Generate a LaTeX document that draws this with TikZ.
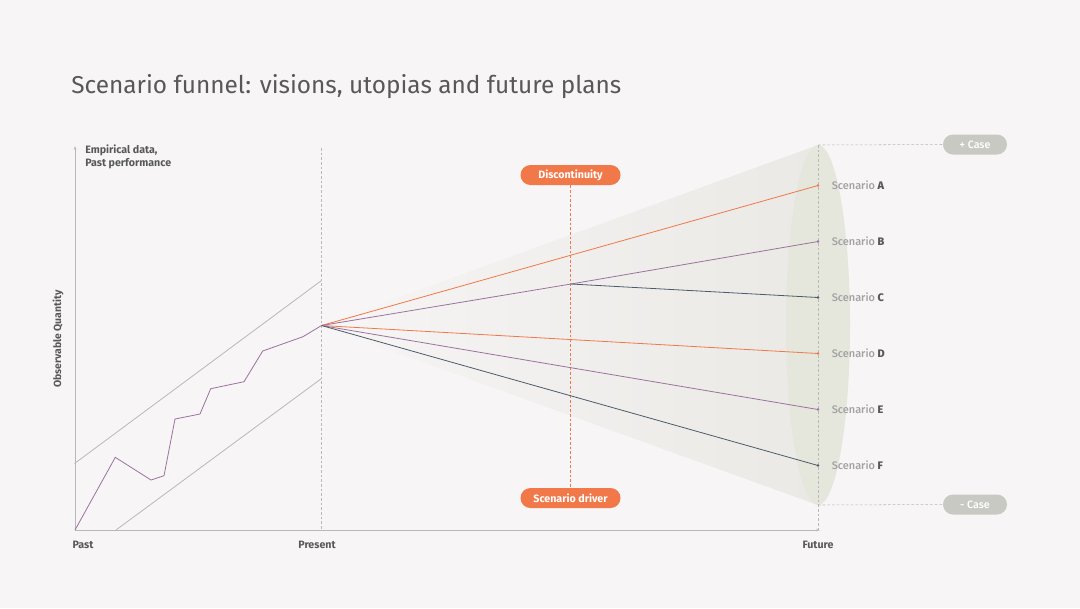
\documentclass[tikz,border=0pt]{standalone}
\usepackage{fontspec}
\setmainfont{Fira Sans}
\newfontfamily\medfont{Fira Sans Medium}
\usetikzlibrary{arrows.meta,shapes.geometric}
\definecolor{bg}{HTML}{F7F5F5}
\definecolor{txt}{HTML}{58585A}
\definecolor{lgray}{HTML}{A3A3A3}
\definecolor{axis}{HTML}{B8B8B8}
\definecolor{orng}{HTML}{F07849}
\definecolor{purp}{HTML}{9B729E}
\definecolor{slate}{HTML}{4C5B6B}
\definecolor{pillg}{HTML}{C9C9C3}
\definecolor{ellc}{HTML}{E5E6DC}
\definecolor{func}{HTML}{EAE9E5}
\tikzset{
  lbl/.style={font=\fontsize{8}{9.5}\selectfont\bfseries, text=txt, inner sep=0pt},
  pill/.style={rounded corners=7.5pt, fill=orng, text=white, font=\fontsize{8}{9.5}\selectfont\bfseries, minimum width=75pt, minimum height=15pt, inner sep=0pt},
  gpill/.style={rounded corners=7.5pt, fill=pillg, text=white, font=\fontsize{8}{9.5}\selectfont\medfont, minimum width=48pt, minimum height=15pt, inner sep=0pt},
  guide/.style={draw=axis, dashed, dash pattern=on 2pt off 1.5pt, line width=0.4pt},
  scen/.style={line width=0.6pt},
  scl/.style={font=\fontsize{8.2}{9.5}\selectfont\medfont, text=lgray, anchor=west, inner sep=0pt},
  dot/.style={circle, inner sep=0pt, minimum size=2.2pt},
}
\begin{document}
\begin{tikzpicture}[x=0.75pt,y=-0.75pt]
\fill[bg] (0,0) rectangle (1080,608);
\useasboundingbox (0,0) rectangle (1080,608);
% title
\node[anchor=west, inner sep=0pt, text=txt, font=\fontsize{18.3}{22}\selectfont] (title) at (71,87) {Scenario funnel: visions, utopias and future plans};
% coordinates
\coordinate (O) at (75,530);
\coordinate (P) at (321.5,325.5);
\coordinate (ftop) at (818,145);
\coordinate (fbot) at (818,505);
% funnel
\shade[left color=bg, right color=func] (P) -- (ftop) -- (fbot) -- cycle;
\fill[ellc] (818,325) ellipse [x radius=32, y radius=180];
% guides
\draw[guide] (321.5,148) -- (321.5,530);
\draw[guide] (818,145) -- (818,530);
\node[gpill] (pcase) at (975,144.5) {+ Case};
\node[gpill] (mcase) at (975,504.5) {- Case};
\draw[guide] (ftop) -- (pcase.west);
\draw[guide] (fbot) -- (mcase.west);
% axes
\draw[axis, line width=0.5pt, -{Stealth[length=3pt,width=2pt]}] (O) -- (75,146);
\draw[axis, line width=0.5pt, -{Stealth[length=3pt,width=2pt]}] (O) -- (820,530);
% axis labels
\node[lbl, anchor=west] (emp) at (85,150.5) {Empirical data,};
\node[lbl, anchor=west] (pastp) at (85,164) {Past performance};
\node[lbl, rotate=90, font=\fontsize{7.8}{9}\selectfont\bfseries] (obs) at (58,339) {Observable Quantity};
\node[lbl] (past) at (83,545) {Past};
\node[lbl] (present) at (317,545) {Present};
\node[lbl] (future) at (818,545) {Future};
% band lines
\draw[axis, line width=0.6pt] (74.5,463.5) -- (321.5,280.5);
\draw[axis, line width=0.6pt] (116,530) -- (321.5,378.5);
% data line
\draw[purp, line width=0.6pt] (O) -- (115.3,457.3) -- (151,480) -- (164,475.7) -- (175,419) -- (200,414) -- (210.7,388.7) -- (244,381.7) -- (262.7,351) -- (303,336.7) -- (P);
% discontinuity
\node[pill] (disc) at (570.5,175) {Discontinuity};
\node[pill] (driver) at (570.5,498) {Scenario driver};
\draw[orng, dashed, dash pattern=on 2pt off 1.5pt, line width=0.5pt] (disc.south) -- (driver.north);
% scenario endpoints
\node[dot, fill=orng] (A) at (818,185.5) {};
\node[dot, fill=purp] (B) at (818,241.5) {};
\node[dot, fill=slate] (C) at (818,297.5) {};
\node[dot, fill=orng] (D) at (818,353.5) {};
\node[dot, fill=purp] (E) at (818,409.5) {};
\node[dot, fill=slate] (F) at (818,465.5) {};
\coordinate (K) at (571,284);
\draw[scen, orng] (P) -- (A.center);
\draw[scen, purp] (P) -- (K) -- (B.center);
\draw[scen, slate] (K) -- (C.center);
\draw[scen, orng] (P) -- (D.center);
\draw[scen, purp] (P) -- (E.center);
\draw[scen, slate] (P) -- (F.center);
% scenario labels
\node[scl] (la) at (831.5,185.5) {Scenario \textcolor{txt}{\bfseries A}};
\node[scl] (lb) at (831.5,241.5) {Scenario \textcolor{txt}{\bfseries B}};
\node[scl] (lc) at (831.5,297.5) {Scenario \textcolor{txt}{\bfseries C}};
\node[scl] (ld) at (831.5,353.5) {Scenario \textcolor{txt}{\bfseries D}};
\node[scl] (le) at (831.5,409.5) {Scenario \textcolor{txt}{\bfseries E}};
\node[scl] (lf) at (831.5,465.5) {Scenario \textcolor{txt}{\bfseries F}};
\end{tikzpicture}
\end{document}
